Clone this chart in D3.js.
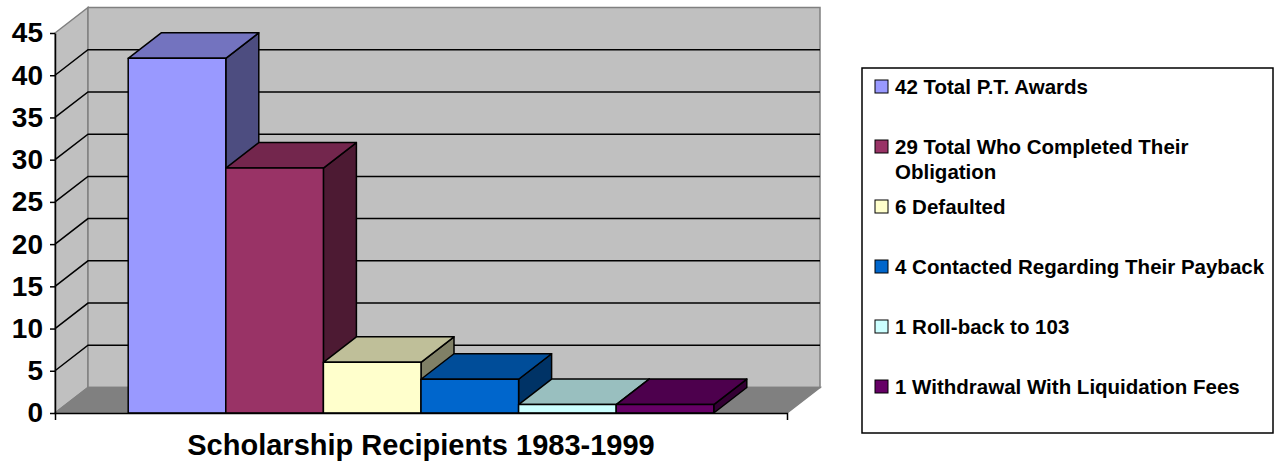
<!DOCTYPE html>
<html>
<head>
<meta charset="utf-8">
<script src="https://cdn.jsdelivr.net/npm/d3@7"></script>
<style>
    body { margin: 0; background: #fff; }
    text { font-family: "Liberation Sans", Arial, sans-serif; font-weight: bold; fill: #000; }
</style>
</head>
<body>
<div id="svg-container"></div>
<script>

const seriesNames = ["42 Total P.T. Awards", "29 Total Who Completed Their Obligation", "6 Defaulted",
    "4 Contacted Regarding Their Payback", "1 Roll-back to 103", "1 Withdrawal With Liquidation Fees"];
const seriesValues = [42, 29, 6, 4, 1, 1];
const seriesColors = ["#9999FF", "#993366", "#FFFFCC", "#0066CC", "#CCFFFF", "#660066"];
const yTicks = [0, 5, 10, 15, 20, 25, 30, 35, 40, 45];
const categoryTitle = "Scholarship Recipients 1983-1999";

const [viewWidth, viewHeight] = [1279, 463];
const [DX, DY] = [33, -25.5];   // depth offset of the 3d box

const shade = (c, k) => {
    let rgb = d3.rgb(c);
    return d3.rgb(rgb.r * k, rgb.g * k, rgb.b * k).formatHex();
};

const pts = arr => arr.map(p => p.join(",")).join(" ");

const buildChart = () => {

    let svg = d3.select("#svg-container")
        .append("svg")
        .attr("width", viewWidth)
        .attr("height", viewHeight)
        .attr("viewBox", `0 0 ${viewWidth} ${viewHeight}`);

    const y = d3.scaleLinear()
        .domain([0, 45])
        .range([413, 33]);

    const x = d3.scaleBand()
        .domain(seriesNames)
        .range([55, 787])
        .paddingInner(0)
        .paddingOuter(0.75);

    const [left, right] = x.range();
    const y0 = y(0), yMax = y(45);

    // walls and floor
    svg.append("polygon")
        .attr("points", pts([[left, yMax], [left + DX, yMax + DY], [left + DX, y0 + DY], [left, y0]]))
        .attr("fill", "#C0C0C0")
        .attr("stroke", "#808080")
        .attr("stroke-width", 1.5);

    svg.append("polygon")
        .attr("points", pts([[left + DX, yMax + DY], [right + DX, yMax + DY], [right + DX, y0 + DY], [left + DX, y0 + DY]]))
        .attr("fill", "#C0C0C0")
        .attr("stroke", "#808080")
        .attr("stroke-width", 1.5);

    svg.append("polygon")
        .attr("points", pts([[left, y0], [right, y0], [right + DX, y0 + DY], [left + DX, y0 + DY]]))
        .attr("fill", "#808080")
        .attr("stroke", "#808080")
        .attr("stroke-width", 1.5);

    // gridlines
    let grid = svg.append("g")
        .attr("class", "grid")
        .selectAll("g")
        .data(yTicks.filter(d => d > 0 && d < 45))
        .enter()
        .append("g");

    grid.append("polyline")
        .attr("points", d => pts([[left, y(d)], [left + DX, y(d) + DY], [right + DX, y(d) + DY]]))
        .attr("fill", "none")
        .attr("stroke", "#000")
        .attr("stroke-width", 1.5);

    // bars
    let bars = svg.append("g")
        .attr("class", "bars")
        .selectAll("g")
        .data(seriesNames.map((name, i) => ({name: name, value: seriesValues[i], color: seriesColors[i]})))
        .enter()
        .append("g")
        .attr("stroke", "#000")
        .attr("stroke-width", 1.5)
        .attr("stroke-linejoin", "round");

    bars.append("polygon")
        .attr("class", "side")
        .attr("fill", d => shade(d.color, 0.5))
        .attr("points", d => {
            let x1 = x(d.name) + x.bandwidth(), yt = y(d.value);
            return pts([[x1, yt], [x1 + DX, yt + DY], [x1 + DX, y0 + DY], [x1, y0]]);
        });

    bars.append("polygon")
        .attr("class", "top")
        .attr("fill", d => shade(d.color, 0.75))
        .attr("points", d => {
            let x0 = x(d.name), x1 = x0 + x.bandwidth(), yt = y(d.value);
            return pts([[x0, yt], [x0 + DX, yt + DY], [x1 + DX, yt + DY], [x1, yt]]);
        });

    bars.append("rect")
        .attr("class", "front")
        .attr("fill", d => d.color)
        .attr("x", d => x(d.name))
        .attr("y", d => y(d.value))
        .attr("width", x.bandwidth())
        .attr("height", d => y0 - y(d.value));

    // axes
    let yAxis = svg.append("g")
        .attr("transform", `translate(${left},0)`)
        .call(d3.axisLeft(y).tickValues(yTicks).tickSize(5).tickSizeOuter(0).tickPadding(7));

    let xAxis = svg.append("g")
        .attr("transform", `translate(0,${y0})`)
        .call(d3.axisBottom(d3.scaleLinear().range([left, right])).tickValues([]).tickSizeOuter(7));

    [yAxis, xAxis].forEach(a => {
        a.selectAll("path, line")
            .attr("stroke", "#000")
            .attr("stroke-width", 1.5);
    });

    yAxis.selectAll("text")
        .attr("font-size", 28)
        .attr("font-family", null)
        .attr("fill", "#000");

    svg.append("text")
        .attr("x", (left + right) / 2)
        .attr("y", 455)
        .attr("text-anchor", "middle")
        .attr("font-size", 29)
        .text(categoryTitle);

    // legend
    let legend = svg.append("g")
        .attr("class", "legend");

    legend.append("rect")
        .attr("x", 862)
        .attr("y", 68)
        .attr("width", 411)
        .attr("height", 365)
        .attr("fill", "#fff")
        .attr("stroke", "#000")
        .attr("stroke-width", 1.5);

    let item = legend.selectAll(".item")
        .data(seriesNames)
        .enter()
        .append("g")
        .attr("class", "item")
        .attr("transform", (d, i) => `translate(875,${87 + i * 60})`);

    item.append("rect")
        .attr("x", 0)
        .attr("y", -7)
        .attr("width", 13)
        .attr("height", 13)
        .attr("fill", (d, i) => seriesColors[i])
        .attr("stroke", "#000")
        .attr("stroke-width", 1);

    item.append("text")
        .attr("x", 20)
        .attr("y", 0)
        .attr("font-size", 20.5)
        .text(d => d)
        .call(wrap, 374);

    function wrap(text, width) {
        text.each(function () {
            let text = d3.select(this),
                words = text.text().split(/\s+/).reverse(),
                word,
                line = [],
                lineNumber = 0,
                x = text.attr("x"),
                tspan = text.text(null).append("tspan").attr("x", x).attr("y", 0).attr("dy", "0.35em");
            while (word = words.pop()) {
                line.push(word);
                tspan.text(line.join(" "));
                if (tspan.node().getComputedTextLength() > width) {
                    line.pop();
                    tspan.text(line.join(" "));
                    line = [word];
                    lineNumber++;
                    tspan = text.append("tspan").attr("x", x).attr("y", lineNumber * 25).attr("dy", "0.35em").text(word);
                }
            }
        });
    };
};

buildChart();
</script>
</body>
</html>
